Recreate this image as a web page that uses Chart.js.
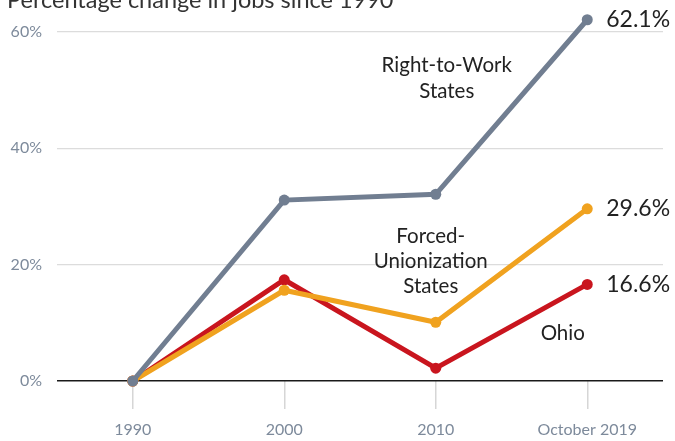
<!DOCTYPE html>
<html>
<head>
<meta charset="utf-8">
<script src="https://cdn.jsdelivr.net/npm/chart.js@4/dist/chart.umd.min.js"></script>
<style>
  html, body { margin: 0; padding: 0; background: #fff; }
  #wrap { width: 675px; height: 441px; position: relative; }
</style>
</head>
<body>
<div id="wrap"><canvas id="chart"></canvas></div>
<script>
const years = ['1990', '2000', '2010', 'October 2019'];
const rightToWork = [0, 31.1, 32.1, 62.1];
const forcedUnion = [0, 15.6, 10.1, 29.6];
const ohio = [0, 17.4, 2.2, 16.6];
const yTicks = [0, 20, 40, 60];

const FONT = 'Lato, "Open Sans", sans-serif';
const GRAY = '#717e91';
const ORANGE = '#f0a21f';
const RED = '#c9151e';

// title, end values and series names
const labelsPlugin = {
  id: 'labels',
  afterDatasetsDraw(chart) {
    const ctx = chart.ctx;
    const x = chart.scales.x, y = chart.scales.y;
    ctx.save();
    ctx.fillStyle = '#333';
    ctx.font = '23.5px ' + FONT;
    ctx.textAlign = 'left';
    ctx.textBaseline = 'alphabetic';
    ctx.fillText('Percentage change in jobs since 1990', 7, 8);

    ctx.fillStyle = '#222';
    ctx.font = '23px ' + FONT;
    ctx.textBaseline = 'middle';
    const last = years.length - 1;
    const lx = x.getPixelForValue(last) + 19;
    [rightToWork, forcedUnion, ohio].forEach(s => {
      ctx.fillText(s[last].toFixed(1) + '%', lx, y.getPixelForValue(s[last]));
    });

    ctx.font = '20.5px ' + FONT;
    ctx.textAlign = 'center';
    const x2010 = x.getPixelForValue(2);
    const rx = x2010 + 11;
    ctx.fillText('Right-to-Work', rx, y.getPixelForValue(54.2));
    ctx.fillText('States', rx, y.getPixelForValue(49.7));
    const fx = x2010 - 5;
    ctx.fillText('Forced-', fx, y.getPixelForValue(24.8));
    ctx.fillText('Unionization', fx, y.getPixelForValue(20.6));
    ctx.fillText('States', fx, y.getPixelForValue(16.3));
    ctx.fillText('Ohio', x2010 + 127, y.getPixelForValue(8.2));
    ctx.restore();
  }
};

const ds = (label, data, color) => ({
  label, data,
  borderColor: color, backgroundColor: color,
  borderWidth: 5, pointRadius: 5.5, pointHoverRadius: 5.5,
  pointBorderWidth: 0, tension: 0, clip: false
});

new Chart(document.getElementById('chart'), {
  type: 'line',
  data: {
    labels: years,
    datasets: [
      ds('Right-to-Work States', rightToWork, GRAY),
      ds('Forced-Unionization States', forcedUnion, ORANGE),
      ds('Ohio', ohio, RED)
    ]
  },
  options: {
    responsive: true,
    maintainAspectRatio: false,
    animation: false,
    events: [],
    // y max is 63.5 so the 62.1 point stays inside; top padding keeps 60% at y=32
    layout: { padding: { top: 11.6, right: 12, left: 0, bottom: 0 } },
    plugins: { legend: { display: false }, tooltip: { enabled: false } },
    scales: {
      x: {
        offset: true,
        border: { display: false },
        grid: { drawOnChartArea: false, offset: false, drawTicks: true, tickLength: 28, color: '#d6d6d6', lineWidth: 1.5 },
        ticks: { color: '#7d8a9b', font: { family: FONT, size: 16 }, padding: 11, maxRotation: 0 },
        afterFit(s) { s.height = 60; }
      },
      y: {
        min: 0, max: 63.5,
        afterBuildTicks(s) { s.ticks = yTicks.map(v => ({ value: v })); },
        border: { display: false },
        grid: {
          drawTicks: false,
          color: c => c.tick && c.tick.value === 0 ? '#1a1a1a' : '#dcdcdc',
          lineWidth: c => c.tick && c.tick.value === 0 ? 1.5 : 1.2
        },
        ticks: { color: '#7d8a9b', font: { family: FONT, size: 16 }, padding: 15, callback: v => v + '%' },
        afterFit(s) { s.width = 57; s.paddingTop = 0; s.paddingBottom = 0; }
      }
    }
  },
  plugins: [labelsPlugin]
});
</script>
</body>
</html>
